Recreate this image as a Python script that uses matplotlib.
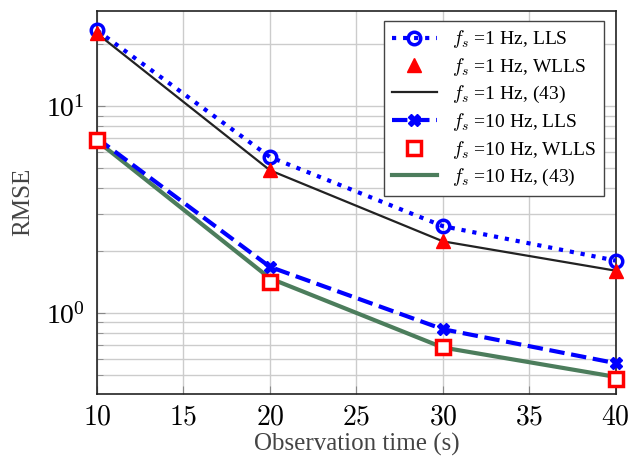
import matplotlib
matplotlib.use('Agg')
import matplotlib.pyplot as plt
from matplotlib.ticker import LogLocator, FixedLocator, NullFormatter, FuncFormatter

plt.rcParams['font.family'] = ['Liberation Serif', 'DejaVu Serif']
plt.rcParams['mathtext.fontset'] = 'cm'

obs_time = [10, 20, 30, 40]
lls_1hz = [23.3, 5.68, 2.63, 1.79]
wlls_1hz = [22.5, 4.9, 2.24, 1.59]
eq43_1hz = [22.5, 4.9, 2.22, 1.6]
lls_10hz = [7.0, 1.67, 0.834, 0.571]
wlls_10hz = [6.85, 1.41, 0.687, 0.48]
eq43_10hz = [6.8, 1.47, 0.68, 0.49]
xticks = [10, 15, 20, 25, 30, 35, 40]

fig = plt.figure(figsize=(6.29, 4.61), dpi=100)
ax = fig.add_axes([0.1542, 0.1453, 0.979 - 0.1542, 0.9768 - 0.1453])

ax.plot(obs_time, lls_1hz, linestyle=':', color='blue', lw=3, marker='o', ms=9,
        mfc='none', mew=2.5, label=r'$f_s$ =1 Hz, LLS', zorder=3, clip_on=False)
ax.plot(obs_time, wlls_1hz, linestyle='none', color='red', marker='^', ms=10,
        label=r'$f_s$ =1 Hz, WLLS', zorder=4, clip_on=False)
ax.plot(obs_time, eq43_1hz, linestyle='-', color='#222222', lw=1.6,
        label=r'$f_s$ =1 Hz, (43)', zorder=3)
ax.plot(obs_time, lls_10hz, linestyle='--', color='blue', lw=3, marker='X', ms=8,
        label=r'$f_s$ =10 Hz, LLS', zorder=3, clip_on=False)
ax.plot(obs_time, wlls_10hz, linestyle='none', color='red', marker='s', ms=10,
        mfc='white', mew=2.5, label=r'$f_s$ =10 Hz, WLLS', zorder=4, clip_on=False)
ax.plot(obs_time, eq43_10hz, linestyle='-', color='#4c7d5c', lw=3,
        label=r'$f_s$ =10 Hz, (43)', zorder=2)

ax.set_yscale('log')
ax.set_xlim(10, 40)
ax.set_ylim(0.405, 29)
ax.xaxis.set_major_locator(FixedLocator(xticks))
ax.xaxis.set_major_formatter(FuncFormatter(lambda v, p: r'$%d$' % v))
ax.yaxis.set_major_locator(LogLocator(base=10))
ax.yaxis.set_minor_locator(LogLocator(base=10, subs=range(2, 10)))
ax.yaxis.set_minor_formatter(NullFormatter())

ax.grid(True, which='major', color='#cccccc', lw=1)
ax.grid(True, which='minor', axis='y', color='#cccccc', lw=1)
ax.set_axisbelow(True)
ax.tick_params(which='both', direction='in', labelsize=20, color='#888888')
ax.tick_params(axis='x', which='major', length=6, pad=8)
ax.tick_params(axis='y', which='major', length=6, pad=9)
ax.tick_params(which='minor', length=4)
for s in ax.spines.values():
    s.set_color('#222222')
    s.set_linewidth(1.2)

ax.set_xlabel('Observation time (s)', fontsize=18, color='#444444', labelpad=2)
ax.set_ylabel('RMSE', fontsize=18, color='#444444', labelpad=8)

leg = ax.legend(loc='upper right', fontsize=14, fancybox=False, framealpha=1,
                edgecolor='#444444', borderpad=0.4, labelspacing=0.3,
                handlelength=2.3, borderaxespad=0,
                bbox_to_anchor=(0.977, 0.974))
leg.get_frame().set_linewidth(1)

fig.savefig('out.png', dpi=100)
